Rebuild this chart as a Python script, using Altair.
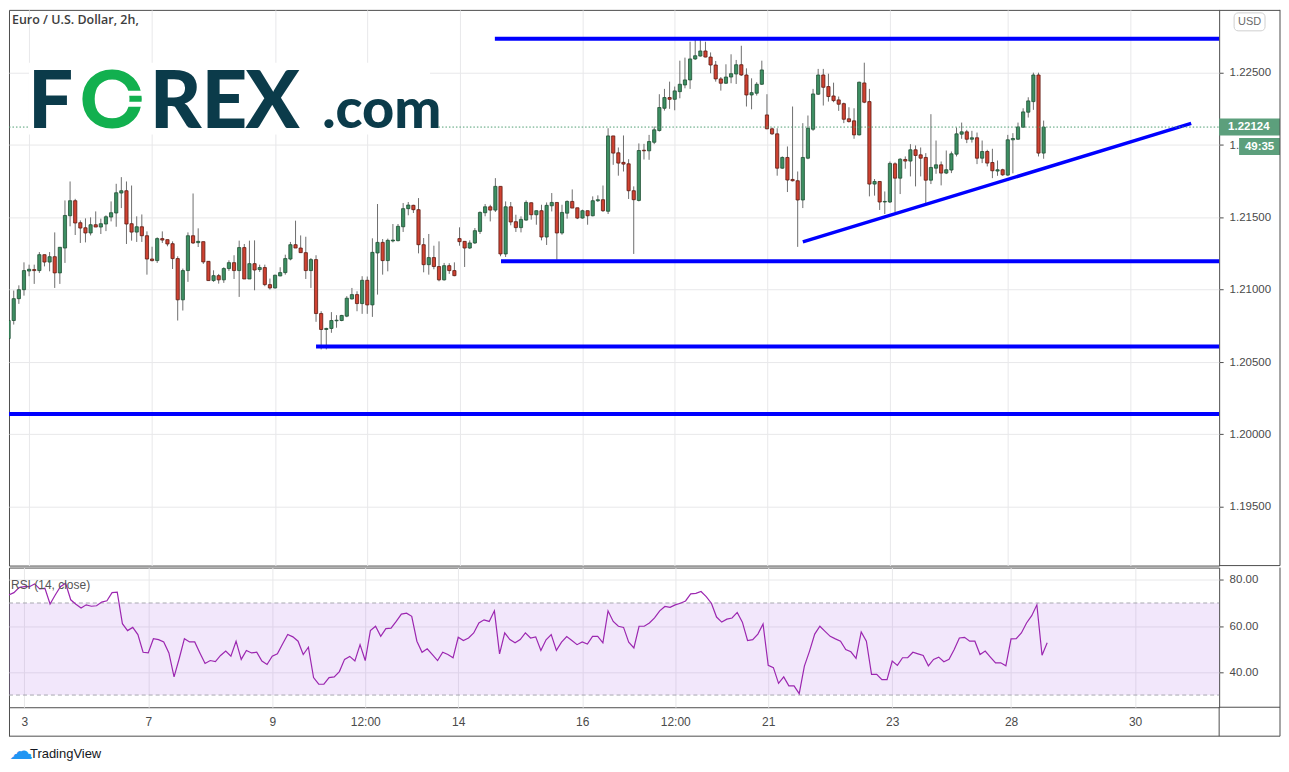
import altair as alt
import pandas as pd

# ---------------- data (EUR/USD, 2h candles) ----------------
open_ = [1.20662,1.20787,1.20938,1.21000,1.21129,1.21139,1.21132,1.21242,1.21191,1.21228,
1.21116,1.21288,1.21511,1.21615,1.21463,1.21428,1.21392,1.21449,1.21433,1.21454,
1.21502,1.21530,1.21668,1.21684,1.21456,1.21398,1.21435,1.21373,1.21212,1.21201,
1.21353,1.21346,1.21318,1.21215,1.20930,1.21132,1.21373,1.21325,1.21332,1.21196,
1.21063,1.21097,1.21068,1.21146,1.21187,1.21132,1.21291,1.21074,1.21180,1.21139,
1.21153,1.21035,1.21012,1.21095,1.21118,1.21212,1.21311,1.21288,1.21256,1.21132,
1.21208,1.20835,1.20725,1.20732,1.20785,1.20787,1.20817,1.20936,1.20966,1.20904,
1.21065,1.20895,1.21254,1.21327,1.21201,1.21337,1.21339,1.21435,1.21560,1.21583,
1.21553,1.21311,1.21173,1.21222,1.21160,1.21068,1.21166,1.21132,1.21353,1.21334,
1.21288,1.21323,1.21403,1.21532,1.21573,1.21550,1.21714,1.21247,1.21573,1.21470,
1.21429,1.21481,1.21601,1.21518,1.21546,1.21364,1.21580,1.21603,1.21392,1.21529,
1.21610,1.21566,1.21495,1.21546,1.21511,1.21615,1.21622,1.21542,1.22063,1.21946,
1.21880,1.21870,1.21684,1.21617,1.21964,1.21960,1.22019,1.22100,1.22254,1.22328,
1.22316,1.22369,1.22415,1.22450,1.22595,1.22615,1.22650,1.22608,1.22553,1.22457,
1.22427,1.22470,1.22491,1.22555,1.22484,1.22346,1.22358,1.22420,1.22208,1.22112,
1.22077,1.21840,1.21914,1.21762,1.21753,1.21620,1.21909,1.22109,1.22351,1.22484,
1.22404,1.22339,1.22312,1.22286,1.22181,1.22167,1.22070,1.22429,1.22300,1.21730,
1.21748,1.21606,1.21606,1.21870,1.21771,1.21900,1.21889,1.21967,1.21932,1.21914,
1.21757,1.21840,1.21863,1.21806,1.21827,1.21937,1.22075,1.22091,1.22040,1.22050,
1.21909,1.21955,1.21879,1.21820,1.21829,1.21792,1.22036,1.22040,1.22123,1.22227,
1.22300,1.22484,1.21944]
high = [1.21086,1.20994,1.21030,1.21189,1.21173,1.21173,1.21260,1.21242,1.21260,1.21396,
1.21293,1.21617,1.21748,1.21628,1.21479,1.21493,1.21500,1.21541,1.21491,1.21514,
1.21610,1.21732,1.21778,1.21748,1.21720,1.21507,1.21520,1.21403,1.21297,1.21362,
1.21403,1.21346,1.21334,1.21231,1.21146,1.21396,1.21665,1.21424,1.21332,1.21196,
1.21134,1.21109,1.21155,1.21203,1.21238,1.21339,1.21316,1.21339,1.21341,1.21173,
1.21173,1.21077,1.21104,1.21155,1.21242,1.21330,1.21477,1.21375,1.21366,1.21219,
1.21238,1.20851,1.20737,1.20845,1.20824,1.20826,1.20955,1.21012,1.20989,1.21093,
1.21091,1.21355,1.21592,1.21350,1.21353,1.21454,1.21454,1.21599,1.21606,1.21587,
1.21633,1.21357,1.21385,1.21304,1.21334,1.21185,1.21183,1.21189,1.21431,1.21334,
1.21341,1.21426,1.21541,1.21592,1.21587,1.21771,1.21714,1.21610,1.21606,1.21518,
1.21507,1.21617,1.21603,1.21548,1.21587,1.21603,1.21668,1.21603,1.21587,1.21617,
1.21693,1.21566,1.21553,1.21546,1.21645,1.21652,1.21720,1.22116,1.22063,1.21983,
1.22066,1.21902,1.21714,1.22011,1.22008,1.22070,1.22128,1.22351,1.22388,1.22438,
1.22404,1.22583,1.22604,1.22714,1.22726,1.22726,1.22714,1.22640,1.22581,1.22470,
1.22558,1.22627,1.22588,1.22686,1.22530,1.22461,1.22434,1.22583,1.22351,1.22121,
1.22116,1.21921,1.21990,1.22266,1.21817,1.22151,1.22204,1.22388,1.22526,1.22526,
1.22493,1.22431,1.22335,1.22293,1.22261,1.22254,1.22438,1.22569,1.22388,1.21765,
1.21748,1.21679,1.21886,1.21880,1.21909,1.21921,1.22006,1.21997,1.21983,1.21944,
1.22213,1.22031,1.21886,1.21962,1.21955,1.22121,1.22155,1.22105,1.22098,1.22086,
1.22031,1.21967,1.21974,1.21893,1.21836,1.22070,1.22082,1.22155,1.22254,1.22330,
1.22500,1.22500,1.22169]
low = [1.20550,1.20759,1.20902,1.20959,1.21093,1.21040,1.21116,1.21161,1.21127,1.21012,
1.21040,1.21185,1.21438,1.21378,1.21323,1.21327,1.21375,1.21433,1.21385,1.21405,
1.21472,1.21435,1.21564,1.21316,1.21339,1.21330,1.21330,1.21104,1.21195,1.21185,
1.21323,1.21300,1.21143,1.20787,1.20856,1.21054,1.21316,1.21295,1.21178,1.21063,
1.21054,1.21042,1.21047,1.21130,1.21074,1.20950,1.21074,1.21074,1.20996,1.21123,
1.21024,1.21001,1.21008,1.21093,1.21104,1.21203,1.21288,1.21254,1.21074,1.21012,
1.20778,1.20587,1.20587,1.20702,1.20737,1.20782,1.20810,1.20932,1.20851,1.20833,
1.20833,1.20812,1.20966,1.21104,1.21127,1.21327,1.21334,1.21399,1.21514,1.21530,
1.21251,1.21120,1.21104,1.21141,1.21058,1.21063,1.21109,1.21093,1.21304,1.21157,
1.21281,1.21316,1.21385,1.21507,1.21472,1.21537,1.21231,1.21226,1.21445,1.21399,
1.21396,1.21477,1.21484,1.21449,1.21341,1.21309,1.21541,1.21208,1.21380,1.21491,
1.21564,1.21488,1.21491,1.21449,1.21507,1.21606,1.21537,1.21523,1.21863,1.21788,
1.21817,1.21627,1.21247,1.21610,1.21900,1.21898,1.22006,1.22093,1.22238,1.22250,
1.22240,1.22323,1.22392,1.22388,1.22588,1.22611,1.22606,1.22496,1.22438,1.22376,
1.22422,1.22427,1.22422,1.22477,1.22266,1.22247,1.22342,1.22415,1.22109,1.22070,
1.21788,1.21836,1.21675,1.21748,1.21296,1.21564,1.21902,1.22098,1.22346,1.22273,
1.22300,1.22296,1.22236,1.22151,1.22155,1.22043,1.22066,1.22289,1.21645,1.21650,
1.21551,1.21523,1.21599,1.21537,1.21661,1.21836,1.21783,1.21714,1.21783,1.21599,
1.21730,1.21801,1.21721,1.21799,1.21806,1.21921,1.22043,1.22013,1.22017,1.21868,
1.21875,1.21852,1.21771,1.21787,1.21787,1.21787,1.21804,1.22036,1.22121,1.22190,
1.22243,1.21921,1.21905]
close = [1.20787,1.20938,1.21000,1.21132,1.21141,1.21132,1.21242,1.21191,1.21228,1.21116,
1.21293,1.21513,1.21615,1.21461,1.21426,1.21392,1.21449,1.21433,1.21456,1.21504,
1.21532,1.21670,1.21684,1.21454,1.21398,1.21435,1.21373,1.21212,1.21201,1.21353,
1.21343,1.21316,1.21215,1.20930,1.21132,1.21373,1.21323,1.21334,1.21192,1.21063,
1.21097,1.21068,1.21146,1.21187,1.21132,1.21291,1.21074,1.21180,1.21136,1.21153,
1.21035,1.21012,1.21100,1.21118,1.21215,1.21311,1.21288,1.21256,1.21132,1.21208,
1.20835,1.20725,1.20732,1.20787,1.20789,1.20822,1.20941,1.20966,1.20904,1.21065,
1.20895,1.21258,1.21327,1.21201,1.21341,1.21343,1.21438,1.21560,1.21585,1.21553,
1.21311,1.21173,1.21222,1.21160,1.21068,1.21166,1.21132,1.21097,1.21332,1.21288,
1.21323,1.21408,1.21534,1.21573,1.21550,1.21714,1.21247,1.21573,1.21468,1.21429,
1.21486,1.21603,1.21518,1.21546,1.21364,1.21583,1.21603,1.21392,1.21534,1.21610,
1.21564,1.21495,1.21546,1.21511,1.21615,1.21622,1.21546,1.22063,1.21944,1.21875,
1.21868,1.21684,1.21622,1.21962,1.21960,1.22024,1.22105,1.22259,1.22328,1.22316,
1.22374,1.22420,1.22450,1.22595,1.22617,1.22650,1.22608,1.22553,1.22457,1.22427,
1.22470,1.22493,1.22555,1.22484,1.22346,1.22362,1.22420,1.22519,1.22112,1.22077,
1.21840,1.21914,1.21758,1.21753,1.21620,1.21914,1.22116,1.22353,1.22484,1.22399,
1.22335,1.22307,1.22282,1.22178,1.22162,1.22070,1.22434,1.22296,1.21730,1.21748,
1.21606,1.21610,1.21873,1.21771,1.21902,1.21889,1.21967,1.21928,1.21909,1.21757,
1.21845,1.21863,1.21806,1.21829,1.21939,1.22077,1.22091,1.22040,1.22050,1.21909,
1.21955,1.21875,1.21822,1.21829,1.21794,1.22036,1.22045,1.22125,1.22229,1.22305,
1.22484,1.21944,1.22124]
rsi = [70.4,73.5,74.5,76.7,77.1,77.1,78.3,76.1,76.4,69.6,
73.5,77.1,78.6,71.4,69.5,67.8,69.2,68.6,68.8,70.4,
71.0,74.5,74.7,61.0,58.0,59.4,56.3,48.6,48.3,54.5,
54.1,53.1,48.3,37.9,45.9,54.5,53.1,53.1,48.3,43.7,
45.0,44.5,47.2,49.1,46.9,53.4,45.5,49.4,48.3,48.6,
44.8,43.3,46.9,47.9,52.2,56.3,55.3,53.4,47.6,50.8,
37.6,34.7,34.7,37.6,37.9,40.2,45.5,46.8,44.8,51.9,
45.0,58.0,59.9,55.5,58.9,59.1,62.0,65.2,65.6,64.2,
53.4,48.6,50.1,47.6,45.0,48.6,47.6,46.2,55.1,53.7,
54.8,57.0,61.3,62.7,62.0,66.6,47.9,57.0,54.1,52.7,
54.1,57.0,54.8,55.3,49.4,54.0,56.3,49.4,53.0,55.4,
53.7,51.9,53.1,52.2,55.5,55.5,52.7,66.6,62.0,59.9,
59.4,53.0,50.5,59.9,59.9,61.3,63.5,66.6,68.5,68.1,
69.2,69.9,70.9,74.0,74.2,75.0,72.8,69.9,63.9,61.7,
63.0,63.5,65.9,61.7,53.7,54.1,56.5,60.9,42.9,41.9,
35.1,37.9,34.0,34.0,30.6,42.6,49.1,56.5,59.9,57.7,
55.5,54.4,53.4,49.8,48.8,45.9,57.4,53.4,39.0,39.0,
36.7,36.7,44.8,42.9,46.2,46.2,48.6,47.9,47.2,42.7,
45.5,46.5,44.5,45.5,49.8,54.8,55.1,53.4,53.4,47.6,
49.1,46.5,44.0,44.0,42.7,54.4,54.5,57.0,61.3,64.5,
69.2,47.3,52.7]

tick_idx = [4, 28, 52, 70, 88, 112, 130, 148, 172, 195, 219]
tick_lbl = ["3", "7", "9", "12:00", "14", "16", "12:00", "21", "23", "28", "30"]
price_ticks = [1.195, 1.200, 1.205, 1.210, 1.215, 1.220, 1.225]
covered_tick = 1.220          # label hidden behind the countdown box, only "1." shows
rsi_ticks = [40, 60, 80]
rsi_bands = [70, 30]

level_start = [94.9, 96.1, 60.0, -0.25]
level_price = [1.22734, 1.21197, 1.20608, 1.20141]
trend_i = [155.0, 230.8]
trend_p = [1.21330, 1.22150]
last_price = 1.22124
countdown = "49:35"

# ---------------- styling ----------------
W, H_MAIN, H_RSI = 1213, 557, 140
X_DOM = [1.05, 235.28]
P_DOM = [1.19093, 1.22934]
R_DOM = [24.7, 85.4]
FONT = "Liberation Sans"
GRID = "#e8e8ea"
FRAME = "#4d4d4d"
TXT = "#4a4a4a"
UP, DOWN = "#3d8f63", "#cf4232"
UP_EDGE, DOWN_EDGE = "#1f4f33", "#5e1a12"
WICK = "#6e6e6e"
BLUE = "#0000ff"
RSI_C = "#9c27b0"

df = pd.DataFrame({"i": list(range(len(close))), "open": open_, "high": high,
                   "low": low, "close": close, "rsi": rsi})
df["dir"] = ["up" if c >= o else "down" for o, c in zip(open_, close)]

xs = alt.Scale(domain=X_DOM, nice=False, zero=False)
x_main = alt.X("i:Q", scale=xs, title=None,
               axis=alt.Axis(values=tick_idx, labels=False, ticks=False, domain=False,
                             grid=True, gridColor=GRID))
ps = alt.Scale(domain=P_DOM, nice=False, zero=False)
y_axis_main = alt.Axis(values=price_ticks,
                       labelExpr=f"datum.value == {covered_tick} ? '1.' : format(datum.value, '.5f')",
                       orient="right", grid=True,
                       gridColor=GRID, domain=False, tickSize=4, tickColor=FRAME,
                       labelPadding=6, labelFont=FONT, labelFontSize=11.5,
                       labelColor=TXT, title=None)

one = pd.DataFrame({"k": [0]})

wicks = alt.Chart(df).mark_rule(color=WICK, strokeWidth=1, clip=True).encode(
    x=x_main,
    y=alt.Y("low:Q", scale=ps, axis=y_axis_main),
    y2="high:Q")
bodies = alt.Chart(df).mark_bar(size=3.2, strokeWidth=0.8, clip=True).encode(
    x=x_main,
    y=alt.Y("open:Q", scale=ps),
    y2="close:Q",
    color=alt.Color("dir:N", scale=alt.Scale(domain=["up", "down"], range=[UP, DOWN]), legend=None),
    stroke=alt.Stroke("dir:N", scale=alt.Scale(domain=["up", "down"], range=[UP_EDGE, DOWN_EDGE]), legend=None))

lv = pd.DataFrame({"i": level_start, "p": level_price})
levels = alt.Chart(lv).mark_rule(color=BLUE, strokeWidth=4, clip=True).encode(
    x=alt.X("i:Q", scale=xs), x2=alt.value(W), y=alt.Y("p:Q", scale=ps))
tr = pd.DataFrame({"i": trend_i, "p": trend_p})
trend = alt.Chart(tr).mark_line(color=BLUE, strokeWidth=3.5).encode(
    x=alt.X("i:Q", scale=xs), y=alt.Y("p:Q", scale=ps))

lp = pd.DataFrame({"p": [last_price], "t": [f"{last_price:.5f}"], "c": [countdown]})
pline = alt.Chart(lp).mark_rule(color="#4e9e72", strokeDash=[1.5, 2], strokeWidth=1).encode(
    y=alt.Y("p:Q", scale=ps), x=alt.value(0), x2=alt.value(W))

# logo background + logo text
logo_bg = alt.Chart(one).mark_rect(color="white").encode(
    x=alt.value(20), x2=alt.value(422), y=alt.value(53), y2=alt.value(125))
logo_dark = "#0b3b4a"
logo_green = "#12b04f"

def logo_letter(ch, x, color, size=80):
    return alt.Chart(one).mark_text(text=ch, font="Lato", fontWeight=900, fontSize=size,
                                    align="left", baseline="alphabetic", color=color).encode(
        x=alt.value(x), y=alt.value(118))

logo_bar1 = alt.Chart(one).mark_rect(color="white").encode(
    x=alt.value(104), x2=alt.value(139), y=alt.value(81), y2=alt.value(86))
logo_bar2 = alt.Chart(one).mark_rect(color="white").encode(
    x=alt.value(104), x2=alt.value(139), y=alt.value(92), y2=alt.value(97))

title = alt.Chart(one).mark_text(text="Euro / U.S. Dollar, 2h,", font="Open Sans", fontWeight=600,
                                 fontSize=12.5, align="left", baseline="middle", color="#3d3d3d").encode(
    x=alt.value(3), y=alt.value(10))

usd_box = alt.Chart(one).mark_rect(fill="white", stroke="#cfcfcf", strokeWidth=1, cornerRadius=4).encode(
    x=alt.value(1228), x2=alt.value(1259), y=alt.value(3), y2=alt.value(21))
usd_txt = alt.Chart(one).mark_text(text="USD", font=FONT, fontSize=11, color="#6a6a6a",
                                   baseline="middle").encode(x=alt.value(1243.5), y=alt.value(12.5))

p_box = alt.Chart(lp).mark_rect(color="#5c9f7c", yOffset=-8.5, y2Offset=8.5).encode(
    x=alt.value(W), x2=alt.value(1274), y=alt.Y("p:Q", scale=ps), y2="p:Q")
p_txt = alt.Chart(lp).mark_text(font=FONT, fontSize=11.5, fontWeight="bold", color="white",
                                align="left", baseline="middle").encode(
    x=alt.value(1222), y=alt.Y("p:Q", scale=ps), text="t:N")
c_box = alt.Chart(lp).mark_rect(color="#5c9f7c", yOffset=11, y2Offset=28).encode(
    x=alt.value(1233), x2=alt.value(1274), y=alt.Y("p:Q", scale=ps), y2="p:Q")
c_txt = alt.Chart(lp).mark_text(font=FONT, fontSize=11.5, fontWeight="bold", color="white",
                                align="center", baseline="middle", dy=19.5).encode(
    x=alt.value(1253.5), y=alt.Y("p:Q", scale=ps), text="c:N")

def hline(x1, x2, y):
    return alt.Chart(one).mark_rule(color=FRAME, strokeWidth=1).encode(
        x=alt.value(x1), x2=alt.value(x2), y=alt.value(y))

def vline(x, y1, y2):
    return alt.Chart(one).mark_rule(color=FRAME, strokeWidth=1).encode(
        x=alt.value(x), y=alt.value(y1), y2=alt.value(y2))

main = alt.layer(
    wicks, bodies, levels, trend, pline, logo_bg,
    logo_letter("F", 19, logo_dark), logo_letter("O", 71, logo_green), logo_bar1, logo_bar2,
    logo_letter("R", 141, logo_dark), logo_letter("E", 193, logo_dark),
    logo_letter("X", 237, logo_dark), logo_letter(".com", 314, logo_dark, 56),
    title, usd_box, usd_txt, p_box, p_txt, c_box, c_txt,
    hline(W, 1274, 0.5), hline(W, 1274, H_MAIN), vline(1274, 0, H_MAIN)
).properties(width=W, height=H_MAIN)

# ---------------- RSI pane ----------------
lbl_map = "{" + ",".join(f"'{v}':'{l}'" for v, l in zip(tick_idx, tick_lbl)) + "}"
x_rsi = alt.X("i:Q", scale=xs, title=None,
              axis=alt.Axis(values=tick_idx, labelExpr=f"{lbl_map}[datum.value]", ticks=False,
                            domain=False, grid=True, gridColor=GRID, labelPadding=9,
                            labelFont=FONT, labelFontSize=12, labelColor=TXT, labelFlush=False))
rs = alt.Scale(domain=R_DOM, nice=False, zero=False)
y_axis_rsi = alt.Axis(values=rsi_ticks, format=".2f", orient="right", grid=True,
                      gridColor=GRID, domain=False, tickSize=4, tickColor=FRAME,
                      labelPadding=6, labelFont=FONT, labelFontSize=11.5,
                      labelColor=TXT, title=None)

band_df = pd.DataFrame({"hi": [rsi_bands[0]], "lo": [rsi_bands[1]]})
band = alt.Chart(band_df).mark_rect(color="#b36fe8", opacity=0.17).encode(
    x=alt.value(0), x2=alt.value(W), y=alt.Y("hi:Q", scale=rs), y2="lo:Q")
bl_df = pd.DataFrame({"v": rsi_bands})
band_lines = alt.Chart(bl_df).mark_rule(color="#a8a8b0", strokeDash=[4, 3], strokeWidth=1).encode(
    x=alt.value(0), x2=alt.value(W), y=alt.Y("v:Q", scale=rs))
rsi_line = alt.Chart(df).mark_line(color=RSI_C, strokeWidth=1.2, clip=True).encode(
    x=x_rsi, y=alt.Y("rsi:Q", scale=rs, axis=y_axis_rsi))
rsi_lbl = alt.Chart(one).mark_text(text="RSI (14, close)", font=FONT, fontSize=12, color="#555555",
                                   align="left", baseline="middle").encode(
    x=alt.value(2), y=alt.value(17))
tv_icon = alt.Chart(one).mark_text(text="\u2601", font="DejaVu Sans", fontSize=24, color="#2196f3",
                                   align="left", baseline="middle").encode(
    x=alt.value(0), y=alt.value(185))
tv_txt = alt.Chart(one).mark_text(text="TradingView", font=FONT, fontSize=13, color="#131722",
                                  align="left", baseline="middle").encode(
    x=alt.value(21), y=alt.value(187))

rsi_pane = alt.layer(
    band, band_lines, rsi_line, rsi_lbl, tv_icon, tv_txt,
    hline(0, 1274, 169), hline(W, 1274, H_RSI), vline(1274, 0, 169),
    vline(W, H_RSI, 169), vline(0.5, H_RSI, 169)
).properties(width=W, height=H_RSI)

chart = alt.vconcat(main, rsi_pane, spacing=0).resolve_scale(
    x="independent", y="independent"
).configure(padding=0).configure_view(stroke=FRAME, strokeWidth=1).configure_concat(spacing=0)

chart.save("out.html", embed_options={"renderer": "svg", "actions": False})
